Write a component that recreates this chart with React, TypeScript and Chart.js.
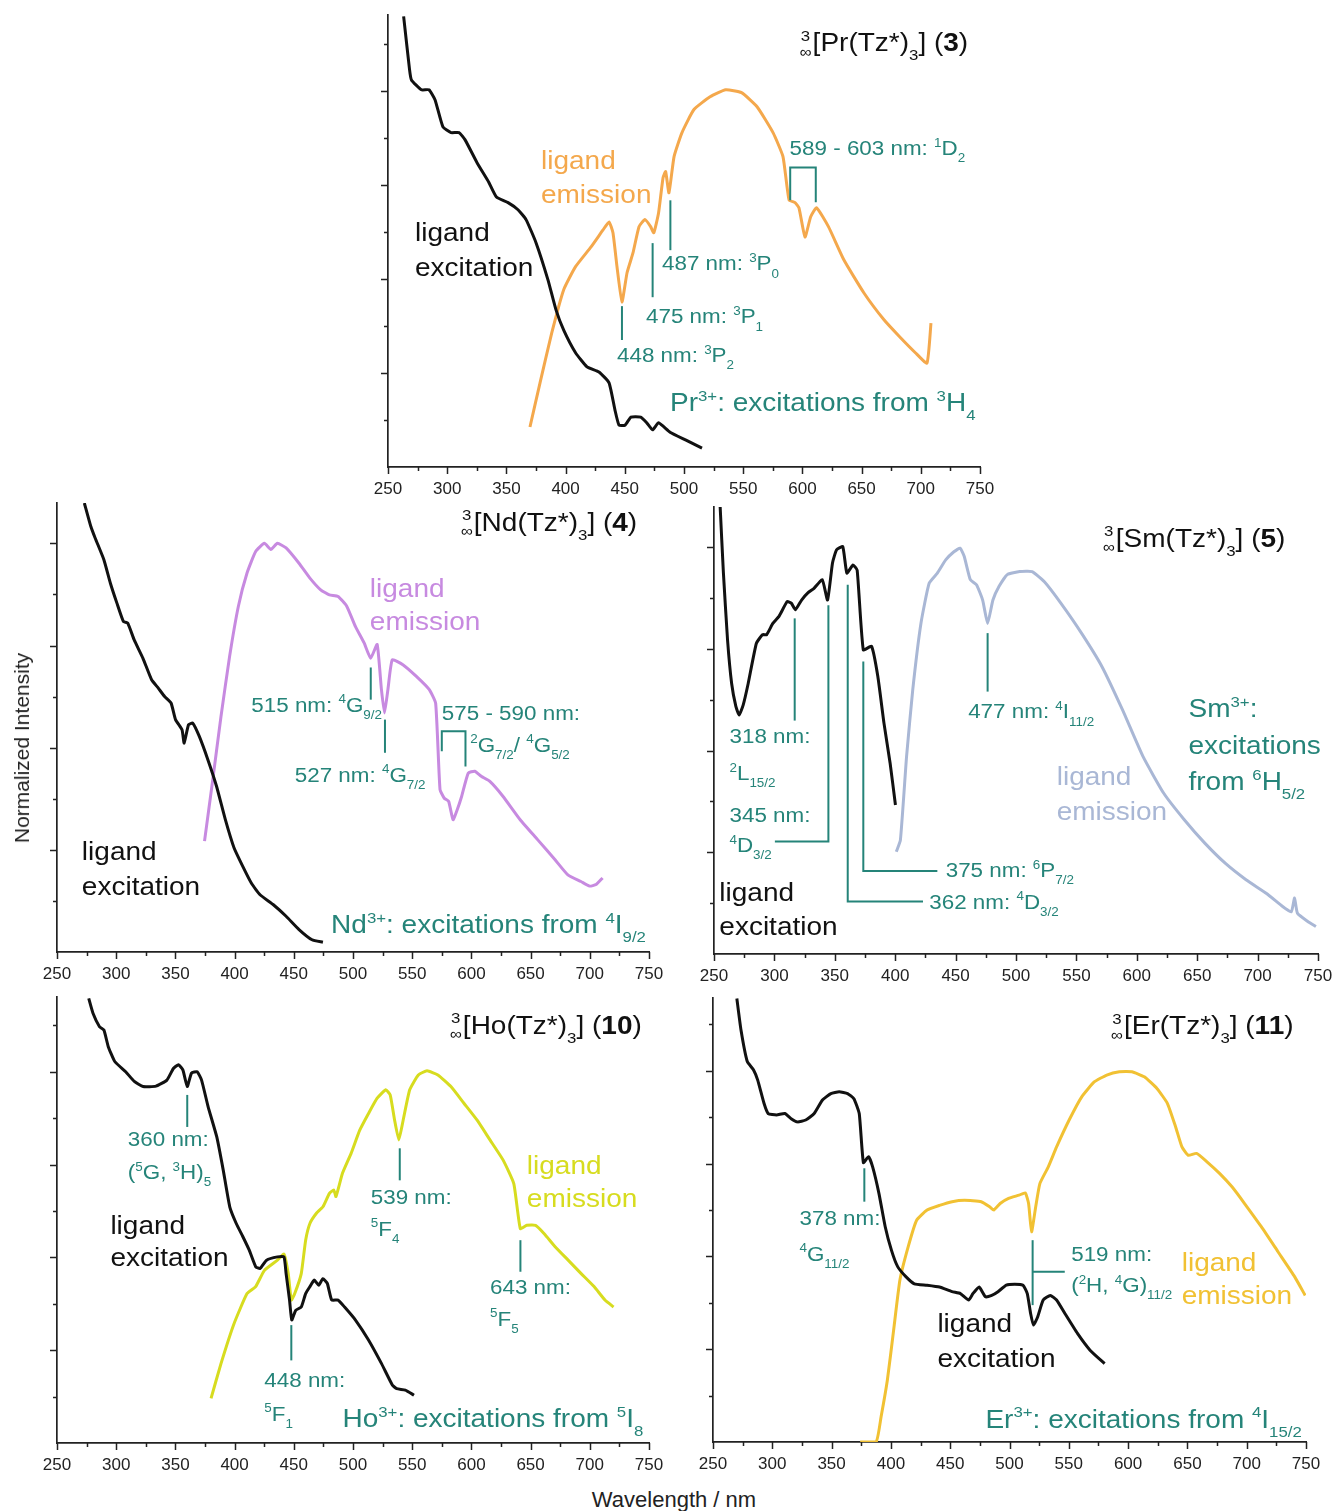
import React, { useEffect, useRef } from 'react';
import { Chart, registerables } from 'chart.js';
Chart.register(...registerables);

const FAMILY = '"Liberation Sans", Arial, Helvetica, sans-serif';
const TEAL = '#258479';
const BLACK = '#111111';
const PR_C = '#f4a84c';
const ND_C = '#c78ae0';
const SM_C = '#a9b7d5';
const HO_C = '#d7dc1f';
const ER_C = '#f1c133';
const BIG = 25;
const SM = 20;
const TITLE = 25;
const SX = 1.12;

// ---------- data (wavelength in nm, normalized intensity in tick units) ----------
const prExcNm = [263.2, 268.2, 269.8, 278.2, 284.6, 289.7, 296.4, 303.2, 310, 315, 325.2, 335, 341.6, 351.4, 359.8, 366.6, 375, 385.1, 391.9, 398.4, 408.4, 418.1, 428.2, 436.7, 441.7, 445.1, 450.2, 455.2, 463.4, 468.5, 473.5, 478.5, 488.2, 501.7, 515.2];
const prExcInt = [9.58, 8.45, 8.23, 8.02, 8.02, 7.81, 7.23, 7.11, 7.11, 6.96, 6.47, 6.06, 5.74, 5.62, 5.47, 5.26, 4.77, 3.98, 3.34, 2.91, 2.43, 2.13, 2.02, 1.79, 1.21, 0.89, 0.89, 1.06, 1.06, 0.94, 0.79, 0.94, 0.74, 0.57, 0.40];
const prEmNm = [369.9, 378.4, 388.3, 398.4, 408.4, 421.5, 431.6, 436.7, 440, 443.4, 447.6, 451.9, 456.9, 462, 467, 471.8, 474.5, 478.5, 482.3, 484.5, 487.3, 491.6, 498.3, 508.4, 522, 535.2, 548.6, 561.7, 575.2, 583.6, 588.7, 593.8, 597.1, 602.2, 607, 612, 622, 635.1, 652, 668.9, 682.1, 695.4, 705.2, 708.6];
const prEmInt = [0.85, 1.79, 2.85, 3.77, 4.26, 4.68, 5.04, 5.21, 4.98, 4.26, 3.51, 4.13, 4.55, 5.11, 5.26, 5.11, 4.98, 5.40, 6.15, 6.28, 5.83, 6.60, 7.11, 7.60, 7.87, 8.02, 7.96, 7.66, 7.11, 6.60, 5.68, 5.62, 5.51, 4.89, 5.32, 5.51, 5.11, 4.40, 3.70, 3.13, 2.77, 2.43, 2.21, 3.06];

const ndExcNm = [273.1, 278.6, 282.3, 289.6, 295.1, 300.6, 306.1, 309.7, 315.2, 322.6, 329.9, 335.4, 340.9, 346.4, 350.1, 355.6, 357.4, 361.1, 364.7, 370.2, 377.5, 384.8, 392.2, 399.5, 406.8, 414.1, 421.5, 432.5, 443.5, 454.4, 465.4, 474.6];
const ndExcInt = [8.79, 8.33, 8.10, 7.68, 7.22, 6.83, 6.47, 6.44, 6.11, 5.75, 5.33, 5.17, 5.00, 4.87, 4.55, 4.35, 4.09, 4.45, 4.48, 4.22, 3.76, 3.24, 2.59, 2.04, 1.68, 1.35, 1.12, 0.93, 0.70, 0.44, 0.24, 0.19];
const ndEmNm = [374.6, 381.2, 388.5, 395.8, 403.2, 410.5, 417.8, 425.2, 430.6, 436.1, 443.5, 454.4, 463.6, 472.7, 480.1, 487.4, 494.7, 502.1, 509.4, 514.9, 520.4, 524.0, 526.6, 529.5, 533.2, 542.4, 553.3, 564.3, 569.8, 573.5, 577.1, 580.8, 584.5, 588.1, 591.8, 597.3, 602.8, 608.3, 615.6, 626.6, 641.2, 655.9, 670.5, 681.5, 692.5, 699.8, 705.3, 710.8];
const ndEmInt = [2.17, 3.31, 4.61, 5.79, 6.77, 7.42, 7.84, 8.00, 7.88, 8.00, 7.91, 7.61, 7.32, 7.09, 6.99, 6.96, 6.77, 6.37, 6.05, 5.75, 6.02, 5.14, 4.68, 5.14, 5.72, 5.62, 5.40, 5.14, 4.87, 3.18, 3.01, 2.95, 2.59, 2.79, 3.05, 3.50, 3.54, 3.44, 3.34, 3.05, 2.59, 2.20, 1.81, 1.51, 1.38, 1.29, 1.32, 1.45];

const smExcNm = [255.1, 257.8, 261.2, 264.6, 268.1, 270.8, 274.2, 278.3, 285.1, 290.2, 293.6, 298.7, 303.8, 310.6, 314.0, 317.4, 322.5, 327.7, 332.8, 339.6, 344.0, 348.1, 351.5, 356.6, 360.0, 365.1, 368.5, 373.6, 380.4, 385.6, 390.7, 395.8, 400.2];
const smExcInt = [8.79, 7.49, 6.18, 5.32, 4.87, 4.70, 4.90, 5.32, 6.11, 6.28, 6.28, 6.50, 6.64, 6.93, 6.90, 6.77, 6.96, 7.10, 7.19, 7.36, 6.96, 7.69, 7.95, 8.01, 7.49, 7.65, 7.55, 5.98, 6.05, 5.46, 4.54, 3.75, 2.93];
const smEmNm = [400.9, 404.3, 409.4, 414.5, 421.3, 428.1, 434.9, 441.8, 448.6, 453.7, 457.1, 462.2, 467.3, 472.4, 476.5, 480.9, 486.0, 492.8, 503.1, 513.3, 523.5, 537.1, 554.2, 571.2, 588.2, 605.2, 622.3, 639.3, 656.3, 673.4, 690.4, 707.4, 721.0, 727.9, 730.6, 733.0, 741.5, 748.3];
const smEmInt = [2.01, 2.24, 3.88, 5.19, 6.50, 7.29, 7.49, 7.75, 7.91, 7.98, 7.82, 7.36, 7.26, 6.96, 6.50, 6.96, 7.23, 7.46, 7.52, 7.52, 7.32, 6.90, 6.31, 5.65, 4.80, 3.88, 3.16, 2.64, 2.18, 1.78, 1.46, 1.19, 0.93, 0.83, 1.10, 0.80, 0.64, 0.54];

const hoExcNm = [276.8, 280.4, 285.9, 289.6, 293.3, 298.8, 308.0, 315.3, 322.7, 333.6, 342.8, 348.3, 352.6, 356.3, 360.0, 363.6, 368.4, 372.1, 377.6, 384.9, 390.4, 395.9, 401.4, 406.9, 412.3, 417.8, 421.5, 427.0, 436.2, 441.7, 443.5, 446.4, 448.3, 451.6, 456.3, 460.0, 463.6, 467.3, 471.0, 474.6, 478.3, 482.0, 487.4, 492.9, 502.1, 513.1, 524.1, 533.2, 536.9, 544.2, 551.5];
const hoExcInt = [9.58, 9.26, 8.97, 8.90, 8.54, 8.22, 8.00, 7.79, 7.68, 7.69, 7.82, 8.07, 8.15, 8.04, 7.68, 7.97, 8.00, 7.82, 7.25, 6.60, 5.88, 5.09, 4.73, 4.45, 4.16, 3.80, 3.76, 3.94, 4.01, 4.01, 3.65, 3.08, 2.65, 2.86, 2.93, 3.22, 3.37, 3.51, 3.40, 3.54, 3.44, 3.08, 3.08, 2.93, 2.65, 2.22, 1.71, 1.25, 1.17, 1.14, 1.03];
const hoEmNm = [380.1, 388.5, 399.5, 410.5, 417.8, 425.2, 436.2, 441.7, 445.3, 447.9, 450.8, 456.3, 460.0, 463.6, 469.1, 474.6, 480.1, 483.8, 485.6, 491.1, 498.4, 505.7, 513.1, 520.4, 527.7, 531.4, 535.1, 538.7, 542.4, 547.9, 555.2, 562.5, 571.7, 582.7, 593.7, 604.7, 615.7, 626.7, 635.8, 641.3, 646.8, 654.2, 661.5, 670.7, 681.7, 692.7, 703.6, 712.8, 720.1];
const hoEmInt = [0.96, 1.71, 2.57, 3.22, 3.37, 3.72, 3.94, 4.07, 3.65, 3.08, 3.22, 3.65, 4.37, 4.73, 4.95, 5.09, 5.38, 5.45, 5.31, 5.81, 6.24, 6.74, 7.10, 7.43, 7.61, 7.50, 6.96, 6.53, 6.96, 7.61, 7.93, 8.02, 7.93, 7.68, 7.32, 6.96, 6.53, 6.10, 5.59, 4.62, 4.69, 4.69, 4.51, 4.23, 3.94, 3.65, 3.37, 3.08, 2.93];

const erExcNm = [270.1, 273.6, 278.9, 284.2, 287.7, 293.0, 296.5, 303.6, 310.6, 315.9, 321.2, 328.2, 335.3, 342.3, 349.4, 356.4, 363.5, 368.8, 373.3, 376.8, 381.1, 384.6, 389.9, 395.2, 400.5, 405.7, 412.8, 419.8, 430.4, 441.0, 451.5, 458.6, 465.6, 469.2, 474.4, 479.7, 485.0, 490.3, 497.3, 504.4, 511.4, 515.0, 517.8, 520.3, 523.8, 528.4, 534.4, 539.7, 546.7, 557.3, 567.9, 580.2];
const erExcInt = [9.56, 8.88, 8.20, 8.02, 7.80, 7.30, 7.08, 7.05, 7.08, 6.97, 6.90, 6.94, 7.08, 7.37, 7.51, 7.55, 7.51, 7.40, 7.08, 6.02, 6.15, 5.93, 5.36, 4.64, 4.13, 3.78, 3.56, 3.41, 3.38, 3.34, 3.24, 3.20, 3.06, 3.20, 3.34, 3.13, 3.16, 3.24, 3.38, 3.40, 3.38, 3.20, 2.77, 2.52, 2.70, 3.06, 3.16, 3.06, 2.77, 2.34, 1.98, 1.69];
const erEmNm = [374.1, 387.5, 391.7, 397.0, 402.3, 407.6, 414.6, 421.7, 430.5, 441.0, 451.6, 462.1, 476.2, 483.3, 486.8, 492.1, 499.2, 508.0, 513.3, 516.1, 518.6, 522.1, 525.6, 532.7, 539.7, 550.3, 560.9, 571.4, 582.0, 592.6, 603.1, 613.7, 624.3, 633.1, 640.1, 645.4, 650.7, 657.7, 666.5, 677.1, 687.6, 698.2, 712.3, 726.4, 740.5, 749.3];
const erEmInt = [0.00, 0.00, 0.54, 1.33, 2.41, 3.49, 4.21, 4.78, 5.00, 5.10, 5.18, 5.21, 5.18, 5.07, 5.00, 5.14, 5.25, 5.32, 5.37, 5.14, 4.53, 5.07, 5.57, 5.93, 6.36, 6.94, 7.44, 7.76, 7.91, 7.98, 7.98, 7.87, 7.62, 7.30, 6.79, 6.36, 6.18, 6.22, 6.04, 5.79, 5.50, 5.14, 4.64, 4.10, 3.56, 3.16];

// axis ticks
const xMin = 250;
const xMax = 750;
const xMajorStep = 50;
const xMinorStep = 25;

// ---------- layout ----------
const PAD_L = 40;
const PAD_R = 40;
const PAD_T = 10;
const X_H = 34;
const PAD_B = 6;

type Txt = { s: string; x: number; y: number; size: number; color: string; align: string };
const t = (s: string, x: number, y: number, size: number, color: string, align = 'left'): Txt => ({ s, x, y, size, color, align });

const PANELS = [
  {
    box: { l: 388, r: 980, t: 15, b: 467 }, yMax: 9.61,
    series: [
      { nm: prExcNm, val: prExcInt, color: BLACK },
      { nm: prEmNm, val: prEmInt, color: PR_C },
    ],
    texts: [
      t('^{3}_{∞}[Pr(Tz*)_{3}] (*{3})', 740, 9.03, TITLE, BLACK, 'right'),
      t('ligand', 379.2, 6.53, BIG, PR_C), t('emission', 379.2, 5.80, BIG, PR_C),
      t('ligand', 272.8, 4.99, BIG, BLACK), t('excitation', 272.8, 4.25, BIG, BLACK),
      t('448 nm: ^{3}P_{2}', 443.4, 2.38, SM, TEAL),
      t('475 nm: ^{3}P_{1}', 467.9, 3.20, SM, TEAL),
      t('487 nm: ^{3}P_{0}', 481.4, 4.33, SM, TEAL),
      t('589 - 603 nm: ^{1}D_{2}', 589.2, 6.78, SM, TEAL),
      t('Pr^{3+}: excitations from ^{3}H_{4}', 488.2, 1.37, BIG, TEAL),
    ],
    lines: [
      [[447.6, 3.42], [447.6, 2.70]],
      [[473.5, 4.76], [473.5, 3.61]],
      [[488.5, 5.67], [488.5, 4.61]],
      [[589.7, 5.67], [589.7, 6.37], [611.3, 6.37], [611.3, 5.63]],
    ],
  },
  {
    box: { l: 57, r: 649, t: 503, b: 952 }, yMax: 8.79,
    series: [
      { nm: ndExcNm, val: ndExcInt, color: BLACK },
      { nm: ndEmNm, val: ndEmInt, color: ND_C },
    ],
    texts: [
      t('^{3}_{∞}[Nd(Tz*)_{3}] (*{4})', 740, 8.42, TITLE, BLACK, 'right'),
      t('ligand', 514.2, 7.13, BIG, ND_C), t('emission', 514.2, 6.47, BIG, ND_C),
      t('ligand', 271, 1.97, BIG, BLACK), t('excitation', 271, 1.29, BIG, BLACK),
      t('515 nm: ^{4}G_{9/2}', 414.1, 4.84, SM, TEAL),
      t('527 nm: ^{4}G_{7/2}', 450.8, 3.47, SM, TEAL),
      t('575 - 590 nm:', 575, 4.67, SM, TEAL),
      t('^{2}G_{7/2}/ ^{4}G_{5/2}', 599, 4.06, SM, TEAL),
      t('Nd^{3+}: excitations from ^{4}I_{9/2}', 481.5, 0.54, BIG, TEAL),
    ],
    lines: [
      [[515, 5.57], [515, 4.94]],
      [[527, 4.55], [527, 3.90]],
      [[575, 3.93], [575, 4.32], [595, 4.32], [595, 3.63]],
    ],
  },
  {
    box: { l: 714, r: 1318, t: 507, b: 954 }, yMax: 8.79,
    series: [
      { nm: smExcNm, val: smExcInt, color: BLACK },
      { nm: smEmNm, val: smEmInt, color: SM_C },
    ],
    texts: [
      t('^{3}_{∞}[Sm(Tz*)_{3}] (*{5})', 723, 8.18, TITLE, BLACK, 'right'),
      t('ligand', 533.7, 3.49, BIG, SM_C), t('emission', 533.7, 2.80, BIG, SM_C),
      t('Sm^{3+}:', 642.8, 4.83, BIG, TEAL), t('excitations', 642.8, 4.11, BIG, TEAL), t('from ^{6}H_{5/2}', 642.8, 3.39, BIG, TEAL),
      t('318 nm:', 262.8, 4.28, SM, TEAL), t('^{2}L_{15/2}', 262.8, 3.56, SM, TEAL),
      t('345 nm:', 262.8, 2.73, SM, TEAL), t('^{4}D_{3/2}', 262.8, 2.14, SM, TEAL),
      t('362 nm: ^{4}D_{3/2}', 428.2, 1.03, SM, TEAL),
      t('375 nm: ^{6}P_{7/2}', 441.8, 1.65, SM, TEAL),
      t('477 nm: ^{4}I_{11/2}', 460.4, 4.77, SM, TEAL),
      t('ligand', 254.4, 1.22, BIG, BLACK), t('excitation', 254.4, 0.54, BIG, BLACK),
    ],
    lines: [
      [[316.8, 6.60], [316.8, 4.59]],
      [[344.7, 6.86], [344.7, 2.21], [300.4, 2.21]],
      [[360.7, 7.26], [360.7, 1.03], [423, 1.03]],
      [[373.6, 5.75], [373.6, 1.63], [434.9, 1.63]],
      [[476.5, 6.31], [476.5, 5.16]],
    ],
  },
  {
    box: { l: 57, r: 649, t: 997, b: 1443 }, yMax: 9.61,
    series: [
      { nm: hoExcNm, val: hoExcInt, color: BLACK },
      { nm: hoEmNm, val: hoEmInt, color: HO_C },
    ],
    texts: [
      t('^{3}_{∞}[Ho(Tz*)_{3}] (*{10})', 743.9, 9.01, TITLE, BLACK, 'right'),
      t('360 nm:', 309.8, 6.56, SM, TEAL), t('(^{5}G, ^{3}H)_{5}', 309.8, 5.84, SM, TEAL),
      t('ligand', 295.1, 4.69, BIG, BLACK), t('excitation', 295.1, 4.01, BIG, BLACK),
      t('448 nm:', 425.1, 1.35, SM, TEAL), t('^{5}F_{1}', 425.1, 0.63, SM, TEAL),
      t('Ho^{3+}: excitations from ^{5}I_{8}', 491.1, 0.53, BIG, TEAL),
      t('539 nm:', 515, 5.30, SM, TEAL), t('^{5}F_{4}', 515, 4.62, SM, TEAL),
      t('ligand', 646.8, 5.99, BIG, HO_C), t('emission', 646.8, 5.27, BIG, HO_C),
      t('643 nm:', 615.7, 3.36, SM, TEAL), t('^{5}F_{5}', 615.7, 2.68, SM, TEAL),
    ],
    lines: [
      [[360, 7.50], [360, 6.81]],
      [[447.9, 2.54], [447.9, 1.78]],
      [[539.5, 6.35], [539.5, 5.66]],
      [[641.4, 4.37], [641.4, 3.69]],
    ],
  },
  {
    box: { l: 713, r: 1306, t: 998, b: 1442 }, yMax: 9.57,
    series: [
      { nm: erExcNm, val: erExcInt, color: BLACK },
      { nm: erEmNm, val: erEmInt, color: ER_C },
    ],
    texts: [
      t('^{3}_{∞}[Er(Tz*)_{3}] (*{11})', 739.5, 8.98, TITLE, BLACK, 'right'),
      t('378 nm:', 322.9, 4.82, SM, TEAL), t('^{4}G_{11/2}', 322.9, 4.06, SM, TEAL),
      t('519 nm:', 552, 4.06, SM, TEAL), t('(^{2}H, ^{4}G)_{11/2}', 552, 3.38, SM, TEAL),
      t('ligand', 645.2, 3.88, BIG, ER_C), t('emission', 645.2, 3.16, BIG, ER_C),
      t('ligand', 439.2, 2.55, BIG, BLACK), t('excitation', 439.2, 1.80, BIG, BLACK),
      t('Er^{3+}: excitations from ^{4}I_{15/2}', 479.7, 0.50, BIG, TEAL),
    ],
    lines: [
      [[377.6, 5.90], [377.6, 5.18]],
      [[519.5, 4.35], [519.5, 2.95]],
      [[519.5, 3.67], [546.6, 3.67]],
    ],
  },
];

// ---------- rich text ----------
type Seg = { t: string; k: string };
function parseRich(s: string): Seg[] {
  const segs: Seg[] = [];
  let buf = '';
  let i = 0;
  while (i < s.length) {
    const c = s[i];
    if ((c === '^' || c === '_' || c === '*') && s[i + 1] === '{') {
      if (buf) { segs.push({ t: buf, k: 'n' }); buf = ''; }
      const end = s.indexOf('}', i + 2);
      segs.push({ t: s.slice(i + 2, end), k: c === '^' ? 'sup' : c === '_' ? 'sub' : 'bold' });
      i = end + 1;
    } else {
      buf += c;
      i++;
    }
  }
  if (buf) segs.push({ t: buf, k: 'n' });
  return segs;
}

function drawRich(ctx: CanvasRenderingContext2D, s: string, x: number, y: number, fs: number, color: string, align: string) {
  const segs = parseRich(s);
  const font = (sz: number, b = false) => `${b ? 'bold ' : ''}${sz}px ${FAMILY}`;
  const ss = fs * 0.6;
  const supDy = -fs * 0.42;
  const subDy = fs * 0.36;
  const items: { t: string; dx: number; dy: number; f: string }[] = [];
  let w = 0;
  for (let i = 0; i < segs.length; i++) {
    const g = segs[i];
    if (g.k === 'sup' && segs[i + 1] && segs[i + 1].k === 'sub') {
      ctx.font = font(ss);
      const w1 = ctx.measureText(g.t).width;
      const w2 = ctx.measureText(segs[i + 1].t).width;
      items.push({ t: g.t, dx: w + (Math.max(w1, w2) - w1) / 2, dy: supDy, f: font(ss) });
      items.push({ t: segs[i + 1].t, dx: w, dy: fs * 0.22, f: font(ss) });
      w += Math.max(w1, w2) + 1;
      i++;
      continue;
    }
    const f = g.k === 'sup' || g.k === 'sub' ? font(ss) : font(fs, g.k === 'bold');
    ctx.font = f;
    const tw = ctx.measureText(g.t).width;
    items.push({ t: g.t, dx: w, dy: g.k === 'sup' ? supDy : g.k === 'sub' ? subDy : 0, f });
    w += tw;
  }
  const total = w * SX;
  const x0 = align === 'right' ? x - total : align === 'center' ? x - total / 2 : x;
  ctx.save();
  ctx.translate(x0, y + fs * 0.35);
  ctx.scale(SX, 1);
  ctx.fillStyle = color;
  ctx.textBaseline = 'alphabetic';
  ctx.textAlign = 'left';
  for (const it of items) {
    ctx.font = it.f;
    ctx.fillText(it.t, it.dx, it.dy);
  }
  ctx.restore();
}

function makePlugin(spec: any) {
  return {
    id: 'annot',
    afterDraw(chart: any) {
      const ctx: CanvasRenderingContext2D = chart.ctx;
      const xs = chart.scales.x;
      const ys = chart.scales.y;
      const ca = chart.chartArea;
      ctx.save();
      // tick marks
      ctx.strokeStyle = '#222';
      ctx.lineWidth = 1.5;
      ctx.beginPath();
      for (let v = xMin; v <= xMax; v += xMinorStep) {
        const px = Math.round(xs.getPixelForValue(v)) + 0.5;
        const len = v % xMajorStep === 0 ? 7 : 4;
        ctx.moveTo(px, ca.bottom);
        ctx.lineTo(px, ca.bottom + len);
      }
      for (let k = 1; k <= Math.floor(spec.yMax); k++) {
        const py = Math.round(ys.getPixelForValue(k)) + 0.5;
        const len = k % 2 === 0 ? 7 : 4;
        ctx.moveTo(ca.left - len, py);
        ctx.lineTo(ca.left, py);
      }
      ctx.stroke();
      // annotation lines
      ctx.strokeStyle = TEAL;
      ctx.lineWidth = 2;
      for (const ln of spec.lines) {
        ctx.beginPath();
        ln.forEach((p: number[], i: number) => {
          const px = xs.getPixelForValue(p[0]);
          const py = ys.getPixelForValue(p[1]);
          if (i === 0) ctx.moveTo(px, py); else ctx.lineTo(px, py);
        });
        ctx.stroke();
      }
      // texts
      for (const tx of spec.texts) {
        drawRich(ctx, tx.s, xs.getPixelForValue(tx.x), ys.getPixelForValue(tx.y), tx.size, tx.color, tx.align);
      }
      ctx.restore();
    },
  };
}

function Panel({ spec }: { spec: any }) {
  const ref = useRef<HTMLCanvasElement>(null);
  const { box } = spec;
  const w = box.r - box.l + PAD_L + PAD_R;
  const h = box.b - box.t + PAD_T + X_H + PAD_B;
  useEffect(() => {
    const chart = new Chart(ref.current as HTMLCanvasElement, {
      type: 'line',
      data: {
        datasets: spec.series.map((s: any) => ({
          data: s.nm.map((x: number, i: number) => ({ x, y: s.val[i] })),
          borderColor: s.color,
          borderWidth: 3,
          pointRadius: 0,
          tension: 0.15,
          fill: false,
        })),
      },
      options: {
        responsive: false,
        animation: false,
        devicePixelRatio: 1,
        events: [],
        layout: { padding: { left: PAD_L, right: PAD_R, top: PAD_T, bottom: PAD_B } },
        plugins: { legend: { display: false }, tooltip: { enabled: false } },
        scales: {
          x: {
            type: 'linear', min: xMin, max: xMax,
            afterFit: (s: any) => { s.height = X_H; },
            ticks: { stepSize: xMajorStep, autoSkip: false, maxRotation: 0, padding: 12, color: '#222', font: { family: FAMILY, size: 17 } },
            grid: { display: false, drawTicks: false },
            border: { display: true, color: '#222', width: 1.7 },
          },
          y: {
            type: 'linear', min: 0, max: spec.yMax,
            afterFit: (s: any) => { s.width = 0; },
            ticks: { display: false },
            grid: { display: false, drawTicks: false },
            border: { display: true, color: '#222', width: 1.7 },
          },
        },
      } as any,
      plugins: [makePlugin(spec)],
    });
    return () => chart.destroy();
  }, []);
  return (
    <canvas
      ref={ref}
      width={w}
      height={h}
      style={{ position: 'absolute', left: box.l - PAD_L, top: box.t - PAD_T, width: w, height: h }}
    />
  );
}

export default function App() {
  return (
    <div style={{ position: 'absolute', left: 0, top: 0, width: 1336, height: 1511, overflow: 'hidden', background: '#fff', fontFamily: FAMILY }}>
      {PANELS.map((p, i) => <Panel key={i} spec={p} />)}
      <div style={{ position: 'absolute', left: 22, top: 748, transform: 'translate(-50%,-50%) rotate(-90deg)', fontSize: 21, whiteSpace: 'nowrap', color: '#222' }}>Normalized Intensity</div>
      <div style={{ position: 'absolute', left: 674, top: 1500, transform: 'translate(-50%,-50%)', fontSize: 22, whiteSpace: 'nowrap', color: '#222' }}>Wavelength / nm</div>
    </div>
  );
}
